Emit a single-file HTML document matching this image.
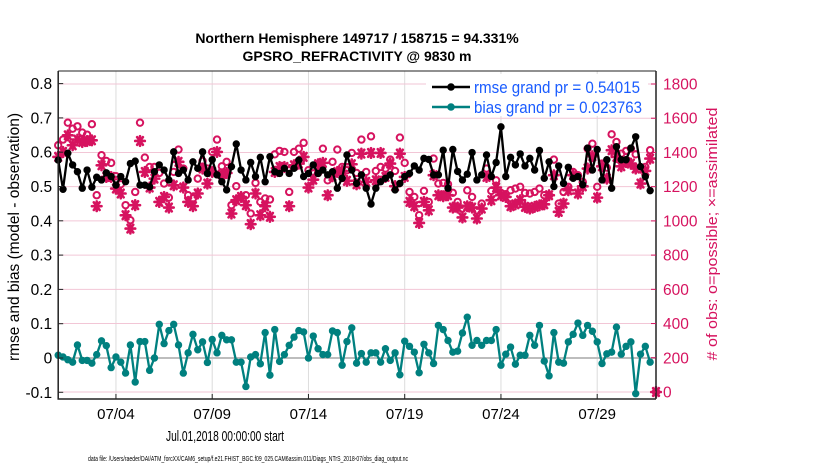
<!DOCTYPE html>
<html><head><meta charset="utf-8"><style>
body{margin:0;background:#fff;}
svg{display:block;font-family:"Liberation Sans",Arial,sans-serif;}
</style></head><body>
<svg id="chart" width="830" height="470" viewBox="0 0 830 470">
<rect x="0" y="0" width="830" height="470" fill="#fff"/>
<g id="grid"></g>
<g id="marks"></g>
<g id="axes"></g>
<text x="357" y="43" text-anchor="middle" font-size="14" font-weight="bold">Northern Hemisphere 149717 / 158715 = 94.331%</text>
<text x="357" y="61" text-anchor="middle" font-size="14" font-weight="bold">GPSRO_REFRACTIVITY @ 9830 m</text>
<text transform="translate(19,237) rotate(-90)" text-anchor="middle" font-size="15.5" textLength="248" lengthAdjust="spacingAndGlyphs">rmse and bias (model - observation)</text>
<text transform="translate(717,234) rotate(-90)" text-anchor="middle" font-size="15" fill="#d6135f" textLength="253" lengthAdjust="spacingAndGlyphs"># of obs: o=possible; ×=assimilated</text>
<text x="225" y="441" text-anchor="middle" font-size="15" textLength="118" lengthAdjust="spacingAndGlyphs">Jul.01,2018 00:00:00 start</text>
<text x="248" y="461" text-anchor="middle" font-size="7" textLength="320" lengthAdjust="spacingAndGlyphs">data file: /Users/raeder/DAI/ATM_forcXX/CAM6_setup/f.e21.FHIST_BGC.f09_025.CAM6assim.011/Diags_NTrS_2018-07/obs_diag_output.nc</text>
<g>
<rect x="426" y="74" width="222" height="42" fill="#fff"/>
<line x1="432" y1="87" x2="470" y2="87" stroke="#000" stroke-width="2.5"/>
<circle cx="451" cy="87" r="3.8" fill="#000"/>
<text x="474" y="93" font-size="16.5" fill="#1a5cff" textLength="166" lengthAdjust="spacingAndGlyphs">rmse grand pr = 0.54015</text>
<line x1="432" y1="107" x2="470" y2="107" stroke="#008080" stroke-width="2.5"/>
<circle cx="451" cy="107" r="3.8" fill="#008080"/>
<text x="474" y="113" font-size="16.5" fill="#1a5cff" textLength="168" lengthAdjust="spacingAndGlyphs">bias grand pr = 0.023763</text>
</g>
</svg>
<script>
const leftTicks=[-0.1,0,0.1,0.2,0.3,0.4,0.5,0.6,0.7,0.8];
const rightTicks=[0,200,400,600,800,1000,1200,1400,1600,1800];
const xTickDays=[3,8,13,18,23,28];
const xTickLabels=["07/04","07/09","07/14","07/19","07/24","07/29"];
const rmse=[.577,.492,.597,.563,.543,.495,.548,.498,.527,.519,.540,.529,.504,.529,.514,.567,.574,.504,.504,.499,.543,.563,.548,.519,.601,.538,.548,.519,.572,.553,.601,.538,.578,
.534,.514,.490,.558,.624,.548,.519,.570,.529,.585,.514,.587,.543,.538,.553,.538,.553,.577,.529,.538,.563,.538,.548,.534,.543,.495,.524,.592,.548,.509,.534,
.495,.449,.495,.514,.524,.534,.490,.509,.529,.538,.560,.548,.582,.579,.534,.534,.606,.495,.608,.544,.519,.536,.599,.519,.534,.592,.529,.570,.674,.529,.585,
.563,.595,.560,.582,.548,.605,.524,.572,.500,.560,.509,.556,.524,.529,.505,.612,.548,.608,.519,.578,.495,.616,.578,.578,.612,.645,.558,.529,.488];
const bias=[.008,.003,-.005,-.012,.038,-.007,-.007,-.015,.01,.05,.036,-.028,.003,-.012,-.044,.038,-.07,.048,.048,-.036,0,.098,.042,.08,.098,.038,-.044,.015,.069,.024,.047,-.013,.054,.015,.066,.053,.053,-.012,-.012,-.083,.003,.01,-.017,.074,-.05,.083,-.01,.01,.037,.061,.08,.076,0,.064,.027,.01,.01,.079,.074,-.021,.048,
.088,-.015,.013,-.012,.015,.015,-.012,.027,-.007,.015,-.049,.049,.034,.017,-.043,.040,.015,-.016,.095,.083,.051,.017,.020,.073,.119,.037,.051,.037,.051,.051,.083,-.021,.011,.032,-.018,.008,.008,.066,.037,.095,-.009,-.052,.074,-.012,-.015,.047,.069,.102,.066,.095,.078,.047,-.016,.012,.017,.090,.011,.034,.047,-.104,.011,.034,-.012];
const nPossible=[1442,1475,1574,1539,1553,1516,1504,1565,1150,1384,1350,1339,1261,1214,1092,1004,1169,1574,1370,1315,1315,1280,1218,1136,1286,1417,1306,1150,1131,1247,1350,1306,1403,
1475,1319,1345,1092,1203,1140,1150,1043,1222,1111,1131,1125,1389,1409,1403,1169,1403,1422,1456,1296,1315,1280,1422,1237,1345,1417,1315,1296,1397,1280,1475,
1286,1494,1292,1315,1306,1358,1292,1487,1339,1169,1140,1033,1175,1111,1364,1218,1222,1214,1164,1111,1072,1179,1140,1062,1101,1306,1175,1237,1164,1156,1179,
1189,1199,1163,1160,1169,1189,1150,1150,1358,1101,1169,1199,1286,1267,1228,1422,1451,1199,1335,1311,1506,1461,1393,1409,1422,1389,1300,1315,1413,0];
const nAssim=[1374,1403,1500,1442,1475,1461,1467,1471,1086,1325,1257,1257,1189,1160,1033,955,1092,1467,1286,1195,1247,1111,1140,1078,1208,1345,1195,1111,1086,1160,1306,1218,1286,
1403,1272,1280,1043,1121,1140,1092,981,1160,1033,1086,1024,1286,1315,1315,1086,1325,1335,1374,1195,1241,1331,1339,1150,1261,1286,1292,1234,1331,1214,1393,
1228,1397,1237,1397,1257,1335,1203,1393,1257,1111,1086,988,1111,1062,1267,1150,1144,1150,1078,1078,1020,1086,1078,1014,1072,1257,1121,1195,1150,1140,1086,
1097,1121,1082,1072,1082,1091,1097,1150,1267,1053,1101,1179,1267,1160,1202,1306,1378,1136,1319,1247,1413,1374,1319,1344,1335,1306,1218,1292,1364,0];

const X0=58.2,X1=656,Y0=71,Y1=399;
const dayPx=19.25;
const xs=d=>X0+d*dayPx;
const yL=v=>358-v*343;
const yR=c=>392-c*(308/1800);
const NS="http://www.w3.org/2000/svg";
function mk(tag,attrs,parent){const e=document.createElementNS(NS,tag);for(const k in attrs)e.setAttribute(k,attrs[k]);parent.appendChild(e);return e;}
const grid=document.getElementById('grid'),marks=document.getElementById('marks'),axes=document.getElementById('axes');
const MAG="#d6135f",TEAL="#00807f";
xTickDays.forEach((d,i)=>{const l=mk('line',{x1:xs(d),x2:xs(d),y1:Y0,y2:Y1,stroke:'#dcdcdc','stroke-width':1},grid);

});
rightTicks.forEach(c=>{const l=mk('line',{x1:X0,x2:X1,y1:yR(c),y2:yR(c),stroke:'#f2c6d6','stroke-width':1},grid);

});
const zl=mk('line',{x1:X0,x2:X1,y1:yL(0),y2:yL(0),stroke:'#bdbdbd','stroke-width':2},grid);


const tAt=i=>i*0.25;
function star(cx,cy,p){const g=mk('g',{stroke:MAG,'stroke-width':2.6,'stroke-linecap':'round'},p);


const r=4.8;mk('line',{x1:cx-r,y1:cy,x2:cx+r,y2:cy},g);
mk('line',{x1:cx-r*0.6,y1:cy-r*0.8,x2:cx+r*0.6,y2:cy+r*0.8},g);
mk('line',{x1:cx-r*0.6,y1:cy+r*0.8,x2:cx+r*0.6,y2:cy-r*0.8},g);
mk('line',{x1:cx,y1:cy-r,x2:cx,y2:cy+r},g);}
nAssim.forEach((c,i)=>{const d=i<rmse.length?tAt(i):(X1-X0)/dayPx;star(xs(d),yR(c),marks);});
nPossible.forEach((c,i)=>{const d=i<rmse.length?tAt(i):(X1-X0)/dayPx;const e=mk('circle',{cx:xs(d),cy:yR(c),r:3.2,fill:'none',stroke:MAG,'stroke-width':2},marks);

});
function series(arr,col,name){const pts=arr.map((v,i)=>xs(tAt(i)).toFixed(1)+','+yL(v).toFixed(1)).join(' ');
const pl=mk('polyline',{points:pts,fill:'none',stroke:col,'stroke-width':2.3,'stroke-linejoin':'round'},marks);


arr.forEach((v,i)=>{const c=mk('circle',{cx:xs(tAt(i)),cy:yL(v),r:3.7,fill:col},marks);

});}
series(rmse,'#000','rmse');
series(bias,TEAL,'bias');
const fr=mk('path',{d:`M${X0},${Y0}V${Y1}H${X1}`,fill:'none',stroke:'#222','stroke-width':1.5},axes);


const tp=mk('line',{x1:X0,x2:X1,y1:Y0,y2:Y0,stroke:'#222','stroke-width':1},axes);


const ra=mk('line',{x1:X1,x2:X1,y1:Y0,y2:Y1,stroke:'#222','stroke-width':1.5},axes);


leftTicks.forEach(v=>{const y=yL(v);mk('line',{x1:X0,x2:X0+5,y1:y,y2:y,stroke:'#222'},axes);
const t=mk('text',{x:X0-6,y:y+5.5,'text-anchor':'end','font-size':15.5},axes);t.textContent=(Math.abs(v)<1e-9?'0':String(v));

});
rightTicks.forEach(c=>{const y=yR(c);mk('line',{x1:X1-5,x2:X1,y1:y,y2:y,stroke:MAG},axes);
const t=mk('text',{x:X1+7,y:y+5.5,'font-size':15.5,fill:MAG},axes);t.textContent=String(c);

});
xTickDays.forEach((d,i)=>{const x=xs(d);mk('line',{x1:x,x2:x,y1:Y1,y2:Y1-5,stroke:'#222'},axes);
const t=mk('text',{x:x,y:Y1+20,'text-anchor':'middle','font-size':15},axes);t.textContent=xTickLabels[i];

});
</script>
</body></html>
